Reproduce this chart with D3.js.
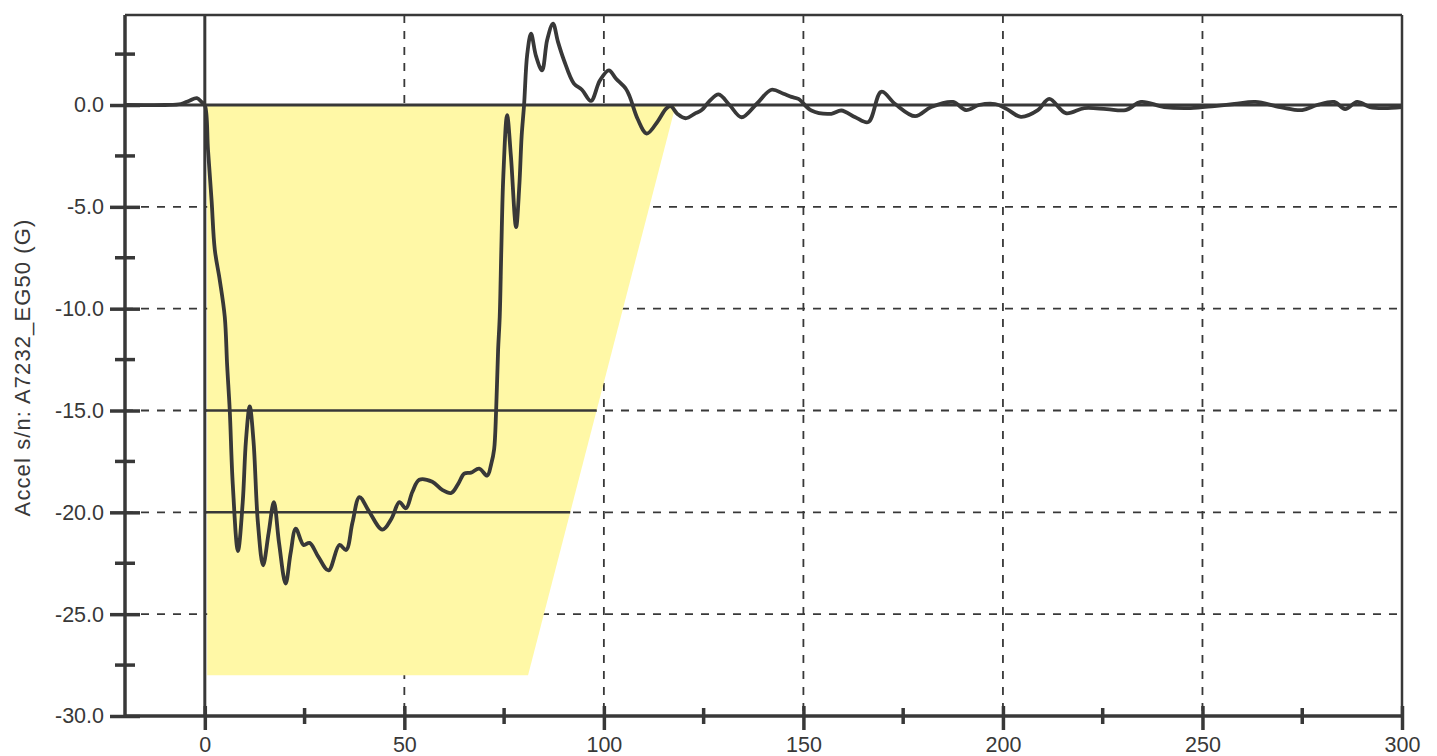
<!DOCTYPE html>
<html>
<head>
<meta charset="utf-8">
<script src="https://cdn.jsdelivr.net/npm/d3@7"></script>
<style>
  body { margin: 0; background: #fff; }
  svg { display: block; font-family: "Liberation Sans", Arial, sans-serif; }
</style>
</head>
<body>
<div id="vis-holder"></div>
<script>
// sled pulse trace (time in ms, accel in G)
const timeMs = [-20, -10, -6, -4, -2, -0.8, 0, 0.8, 1.7, 2.5, 3.75, 5, 5.6, 6.25, 7, 8.3, 9.5, 10.3, 11.25, 12.2, 13.3, 14.6,
  16, 17.3, 18.6, 20.25, 21.5, 22.8, 24.75, 26.25, 28.5, 31, 33.75, 35.4, 37, 38.75, 41, 44.5, 46.8, 48.75, 50.4, 52,
  53.75, 57, 59.5, 61.75, 63.5, 65, 66.7, 68.75, 70.75, 71.8, 72.5, 73, 73.5, 73.9, 74.3, 74.8, 75.75, 76.7, 78, 78.8,
  79.4, 80, 80.8, 81.75, 83, 84.5, 85.8, 87.25, 88.5, 90, 92.5, 94.5, 96.75, 99, 101.25, 103, 105.5, 106.5, 108.5,
  110.75, 113.5, 115.5, 116.7, 118.5, 120.5, 123, 124.5, 126.5, 128.75, 131.5, 134.5, 138.25, 142, 145, 147, 148.75,
  152, 157, 159.5, 163, 166.25, 169.5, 173, 178, 182, 187.5, 190.75, 194, 198, 201, 204.5, 208.75, 211.6, 215.75,
  220.4, 226, 230.75, 234.6, 240.4, 247, 253, 258, 263.25, 269.5, 275, 278.75, 283, 285.75, 288.75, 292, 295.5, 300];
const accelG = [0, 0, 0.05, 0.2, 0.34, 0.15, 0, -2.2, -4.7, -7.1, -8.6, -10.4, -12.8, -15, -18.6, -21.9, -19.5, -16.5,
  -14.8, -16.5, -20.5, -22.6, -21, -19.5, -21.5, -23.5, -22, -20.8, -21.6, -21.5, -22.2, -22.85, -21.6, -21.85, -20.5,
  -19.25, -19.9, -20.85, -20.3, -19.5, -19.8, -19, -18.4, -18.5, -18.9, -19.05, -18.6, -18.1, -18.05, -17.85, -18.2,
  -17.6, -16.9, -15, -12, -10.4, -7.1, -3.5, -0.5, -2.5, -6, -4, -1.5, 0, 2.5, 3.5, 2.4, 1.7, 3.2, 4.0, 3.1, 2.2, 1.05,
  0.75, 0.2, 1.2, 1.7, 1.3, 0.8, 0.4, -0.7, -1.4, -0.8, -0.2, -0.05, -0.45, -0.65, -0.4, -0.25, 0.2, 0.52, 0, -0.6,
  0.05, 0.75, 0.55, 0.4, 0.3, -0.27, -0.43, -0.27, -0.6, -0.84, 0.65, 0.05, -0.55, -0.1, 0.15, -0.25, 0, 0.05, -0.2,
  -0.58, -0.25, 0.3, -0.4, -0.15, -0.2, -0.25, 0.15, -0.1, -0.15, -0.05, 0.05, 0.15, -0.1, -0.25, 0, 0.15, -0.2, 0.15,
  -0.1, -0.15, -0.1];

// yellow acceptance corridor
const corridorX = [0.6, 118, 81, 0.6];
const corridorY = [0, 0, -28, -28];
const limitLevels = [-15, -20];

const xMajor = [0, 50, 100, 150, 200, 250, 300];
const xMinor = [25, 75, 125, 175, 225, 275];
const yMajor = [0, -5, -10, -15, -20, -25, -30];
const yMinor = [2.5, -2.5, -7.5, -12.5, -17.5, -22.5, -27.5];
const xGrid = [50, 100, 150, 200, 250];
const yGrid = [-5, -10, -15, -20, -25];

const yLabel = "Accel s/n: A7232_EG50 (G)";

const width = 1437, height = 756;
const margin = { top: 15, right: 35, bottom: 40, left: 125 };
const ink = "#383838";

const svg = d3.select("#vis-holder").append("svg")
  .attr("width", width).attr("height", height);

const x = d3.scaleLinear().domain([-20, 300]).range([margin.left, width - margin.right]);
const y = d3.scaleLinear().domain([-30, 4.42]).range([height - margin.bottom, margin.top]);

const x0 = x.range()[0], x1 = x.range()[1];
const yTop = y.range()[1], yBot = y.range()[0];

// dashed grid
svg.append("g").selectAll("line").data(xGrid).join("line")
  .attr("x1", d => x(d)).attr("x2", d => x(d))
  .attr("y1", yTop).attr("y2", yBot)
  .attr("stroke", ink).attr("stroke-width", 1.8).attr("stroke-dasharray", "8,8");
svg.append("g").selectAll("line").data(yGrid).join("line")
  .attr("x1", x0).attr("x2", x1)
  .attr("y1", d => y(d)).attr("y2", d => y(d))
  .attr("stroke", ink).attr("stroke-width", 1.8).attr("stroke-dasharray", "8,8");

// corridor
svg.append("path")
  .attr("d", d3.line().x(d => x(d[0])).y(d => y(d[1]))(d3.zip(corridorX, corridorY)) + "Z")
  .attr("fill", "#fff8a6");

// edge of corridor at a given level (right sloped side)
const edgeAt = d3.scaleLinear().domain([corridorY[1], corridorY[2]]).range([corridorX[1], corridorX[2]]);

svg.append("g").selectAll("line").data(limitLevels).join("line")
  .attr("x1", x(0)).attr("x2", d => x(edgeAt(d)))
  .attr("y1", d => y(d)).attr("y2", d => y(d))
  .attr("stroke", ink).attr("stroke-width", 2.5);

// time zero and zero G lines
svg.append("line")
  .attr("x1", x(0)).attr("x2", x(0)).attr("y1", yTop).attr("y2", yBot)
  .attr("stroke", ink).attr("stroke-width", 3);
svg.append("line")
  .attr("x1", x0).attr("x2", x1).attr("y1", y(0)).attr("y2", y(0))
  .attr("stroke", ink).attr("stroke-width", 3);

// trace
svg.append("path")
  .datum(d3.zip(timeMs, accelG))
  .attr("fill", "none")
  .attr("stroke", ink)
  .attr("stroke-width", 3.8)
  .attr("stroke-linejoin", "round")
  .attr("d", d3.line().x(d => x(d[0])).y(d => y(d[1])).curve(d3.curveCatmullRom.alpha(0.5)));

// frame
svg.append("line").attr("x1", x0).attr("x2", x1).attr("y1", yTop).attr("y2", yTop)
  .attr("stroke", ink).attr("stroke-width", 2.5);
svg.append("line").attr("x1", x1).attr("x2", x1).attr("y1", yTop).attr("y2", yBot)
  .attr("stroke", ink).attr("stroke-width", 2.5);

// y axis
const yAxis = svg.append("g").attr("transform", `translate(${x0},0)`)
  .call(d3.axisLeft(y).tickValues(yMajor).tickFormat(d3.format(".1f")).tickSize(15).tickPadding(6));
yAxis.select(".domain").attr("stroke", ink).attr("stroke-width", 3.5);
yAxis.selectAll(".tick line").attr("stroke", ink).attr("stroke-width", 3.5).attr("x2", 15).attr("x1", -15);
yAxis.selectAll(".tick text").attr("fill", ink).attr("font-size", 21.5).attr("x", -21)
  .text(d => d3.format(".1f")(d).replace("−", "-"));
yAxis.selectAll(".minor").data(yMinor).join("line").attr("class", "minor")
  .attr("x1", -10).attr("x2", 10).attr("y1", d => y(d)).attr("y2", d => y(d))
  .attr("stroke", ink).attr("stroke-width", 3.5);
yAxis.select(".domain").attr("d", `M0,${yTop}V${yBot}`);

// x axis
const xAxis = svg.append("g").attr("transform", `translate(0,${yBot})`)
  .call(d3.axisBottom(x).tickValues(xMajor).tickSize(14).tickPadding(8));
xAxis.select(".domain").attr("stroke", ink).attr("stroke-width", 3.5).attr("d", `M${x0},0H${x1}`);
xAxis.selectAll(".tick line").attr("stroke", ink).attr("stroke-width", 3.5).attr("y1", -10).attr("y2", 14);
xAxis.selectAll(".tick text").attr("fill", ink).attr("font-size", 21.5).attr("y", 21);
xAxis.selectAll(".minor").data(xMinor).join("line").attr("class", "minor")
  .attr("x1", d => x(d)).attr("x2", d => x(d)).attr("y1", -8).attr("y2", 8)
  .attr("stroke", ink).attr("stroke-width", 3.5);

// y label
svg.append("text")
  .attr("transform", `translate(30,${(yTop + yBot) / 2 + 2}) rotate(-90)`)
  .attr("text-anchor", "middle")
  .attr("font-size", 22)
  .attr("letter-spacing", 1.1)
  .attr("fill", ink)
  .text(yLabel);
</script>
</body>
</html>
